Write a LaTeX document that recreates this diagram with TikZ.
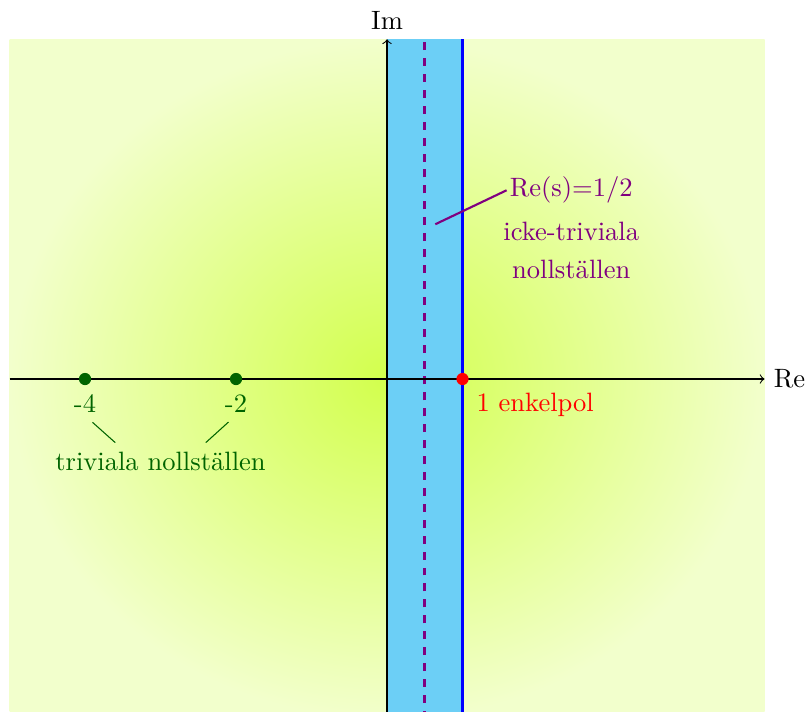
\documentclass[tikz,border=0pt]{standalone}
\usetikzlibrary{positioning,calc}
\definecolor{stripblue}{RGB}{108,207,246}
\definecolor{zerogreen}{RGB}{0,100,0}

\begin{document}
\begin{tikzpicture}[
  zero/.style  = {circle, fill=zerogreen, inner sep=0pt, minimum size=4.6pt},
  pole/.style  = {circle, fill=red, inner sep=0pt, minimum size=4.6pt},
  glab/.style  = {text=zerogreen},
  vlab/.style  = {text=violet},
  tick/.style  = {zerogreen},
  crit/.style  = {violet, line width=1pt, dashed},
  ptr/.style   = {violet, thick}
]
\useasboundingbox (-5.126,-4.41) rectangle (5.576,5.02);

% --- Bakgrund ----------------------------------------------------------------
\shade[inner color=lime!70, outer color=lime!20] (-5,-4.5) rectangle (5,4.5);

% --- Kritiska remsan 0 < Re(s) < 1 -------------------------------------------
\fill[stripblue] (0,-4.5) rectangle (1,4.5);
\draw[blue, line width=1pt] (1,-4.5) -- (1,4.5);
\draw[crit] (0.5,-4.5) -- (0.5,4.5);

% --- Axlar ---------------------------------------------------------------------
\draw[->] (-5,0) -- (5,0) node[right] (re) {Re};
\draw[->] (0,-4.5) -- (0,4.5) node[above] (im) {Im};

% --- Triviala nollställen ------------------------------------------------------
\node[zero, label={[glab, name=m4l]below:-4}] (m4) at (-4,0) {};
\node[zero, label={[glab, name=m2l]below:-2}] (m2) at (-2,0) {};
\node[glab] (triv) at (-3,-1.09) {triviala nollställen};
\draw[tick] ([xshift=0.1cm]m4l.south) -- ([xshift=-0.6cm]triv.north);
\draw[tick] ([xshift=-0.1cm]m2l.south) -- ([xshift=0.6cm]triv.north);

% --- Pol i s = 1 ---------------------------------------------------------------
\node[pole, label={[text=red]below right:1 enkelpol}] (p1) at (1,0) {};

% --- Icke-triviala nollställen -------------------------------------------------
\coordinate (half) at (0.64,2.05);
\node[vlab, inner xsep=1pt] (rehalf) at (2.44,2.5) {Re(s)=1/2};
\node[vlab, below=0pt of rehalf] (icke) {icke-triviala};
\node[vlab, below=0pt of icke] (noll) {nollställen};
\draw[ptr] (half) -- (rehalf.west);

\end{tikzpicture}
\end{document}
